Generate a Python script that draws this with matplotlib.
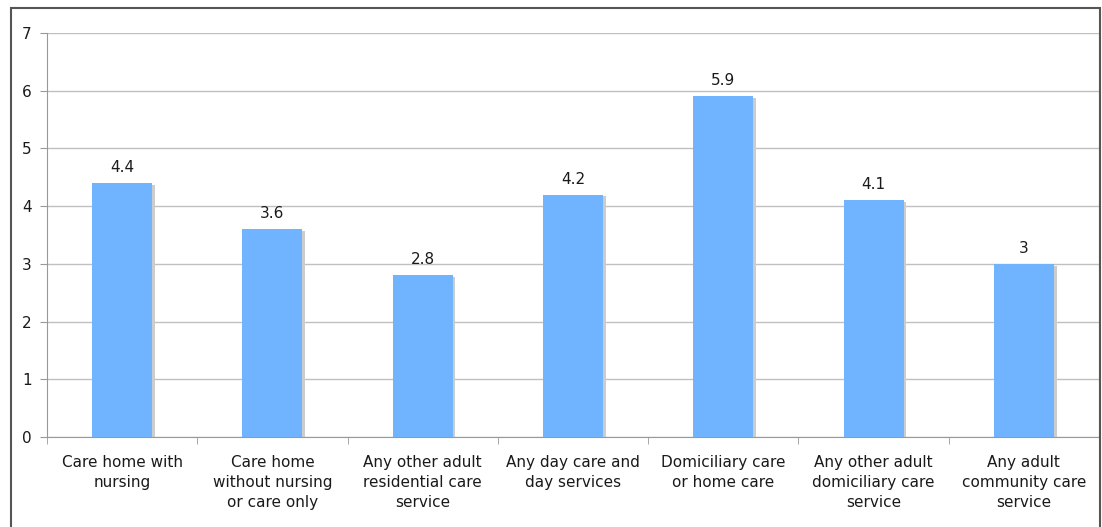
import matplotlib
matplotlib.use("Agg")
import matplotlib.pyplot as plt
from matplotlib.patches import Rectangle
import numpy as np

categories = [
    "Care home with\nnursing",
    "Care home\nwithout nursing\nor care only",
    "Any other adult\nresidential care\nservice",
    "Any day care and\nday services",
    "Domiciliary care\nor home care",
    "Any other adult\ndomiciliary care\nservice",
    "Any adult\ncommunity care\nservice",
]
values = [4.4, 3.6, 2.8, 4.2, 5.9, 4.1, 3.0]
value_labels = ["4.4", "3.6", "2.8", "4.2", "5.9", "4.1", "3"]

BAR = "#70b4ff"
SHADOW = "#cccccc"
GRID = "#c0c0c0"
TEXT = "#1a1a1a"

plt.rcParams["font.family"] = ["DejaVu Sans"]

fig = plt.figure(figsize=(11.02, 5.27), dpi=100, facecolor="white")
ax = fig.add_axes([47 / 1102, 1 - 437 / 527, 1052 / 1102, 404 / 527])

x = np.arange(len(values))
ax.bar(x + 0.018, np.array(values) - 0.03, width=0.4, color=SHADOW, zorder=2)
ax.bar(x, values, width=0.4, color=BAR, zorder=3)

for xi, v, lab in zip(x, values, value_labels):
    ax.text(xi, v + 0.14, lab, ha="center", va="bottom", fontsize=11, color=TEXT)

ax.set_xlim(-0.5, len(values) - 0.5)
ax.set_ylim(0, 7)
ax.set_yticks(range(0, 8))
ax.yaxis.grid(True, color=GRID, lw=1)
ax.set_axisbelow(True)

ax.set_xticks(x)
ax.set_xticklabels(categories, fontsize=11, color=TEXT, linespacing=1.42)
ax.tick_params(axis="x", length=0, pad=13)
ax.set_xticks(np.arange(-0.5, len(values)), minor=True)
ax.tick_params(axis="x", which="minor", length=5, color="#999999")
ax.tick_params(axis="y", length=5, color="#999999", labelsize=11, labelcolor=TEXT, pad=6)

ax.spines["top"].set_visible(False)
ax.spines["right"].set_color(GRID)
ax.spines["left"].set_color("#999999")
ax.spines["bottom"].set_color("#999999")

fig.patches.append(Rectangle((11 / 1102, -0.01), 1089 / 1102, 1.01 - 8 / 527,
                             transform=fig.transFigure, fill=False,
                             edgecolor="#555555", lw=1.5))

fig.savefig("out.png", dpi=100, facecolor="white")
